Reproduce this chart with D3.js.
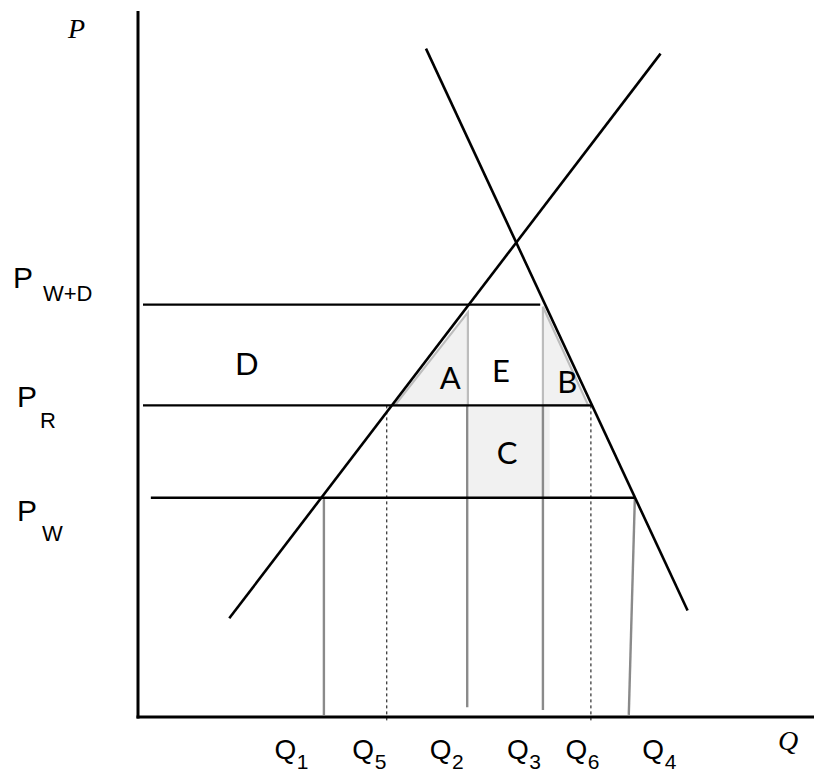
<!DOCTYPE html>
<html>
<head>
<meta charset="utf-8">
<script src="https://cdn.jsdelivr.net/npm/d3@7"></script>
<style>
html,body{margin:0;padding:0;background:#fff;}
svg{display:block;}
</style>
</head>
<body>
<svg id="chart" width="814" height="774"></svg>
<script>
// ---- data (schematic units: quantity 0-100, price 0-100) ----
const supplyLine = [{q:13.5, p:14.0}, {q:77.3, p:94.1}];
const demandLine = [{q:42.6, p:94.8}, {q:81.3, p:15.1}];

const priceNames  = ["W+D", "R", "W"];
const priceValues = [58.5, 44.2, 31.1];
const priceLineFrom = [0.74, 0.74, 1.9];
const priceLineTo   = [59.5, 67.2, 73.4];

const qNames  = ["1", "5", "2", "3", "6", "4"];
const qValues = [27.5, 36.8, 48.7, 59.9, 67.0, 73.2];
const qTopPrice = [31.1, 44.2, 44.2, 44.2, 44.2, 31.1];
const qBottomPrice = [0.28, -0.85, 1.4, 1.0, -0.85, 0.3];
const qDotted = [false, true, false, false, true, false];
const qBottomQ = [27.5, 36.8, 48.7, 59.9, 67.0, 72.6];
const qTopQ    = [27.5, 36.8, 48.7, 59.9, 67.0, 73.5];

const triA = [{q:38.0, p:44.2}, {q:48.8, p:57.4}, {q:48.8, p:44.2}];
const triB = [{q:59.9, p:58.2}, {q:59.9, p:44.2}, {q:66.6, p:44.2}];
const rectC = {q0:49.0, q1:60.9, p0:31.1, p1:44.2};

const regionNames = ["D", "A", "E", "B", "C"];
const regionQ = [16.1, 46.2, 53.7, 63.5, 54.6];
const regionP = [50.2, 48.2, 49.2, 47.7, 37.6];

// ---- layout ----
const svg = d3.select("#chart");
const x = d3.scaleLinear().domain([0, 100]).range([138, 814]);
const y = d3.scaleLinear().domain([0, 100]).range([717, 12]);
const line = d3.line().x(d => x(d.q)).y(d => y(d.p));

// shaded regions
svg.append("rect")
  .attr("x", x(rectC.q0)).attr("y", y(rectC.p1))
  .attr("width", x(rectC.q1) - x(rectC.q0))
  .attr("height", y(rectC.p0) - y(rectC.p1))
  .attr("fill", "#f1f1f1");
[triA, triB].forEach(t => {
  svg.append("path").attr("d", line(t) + "Z")
    .attr("fill", "#f1f1f1").attr("stroke", "#bdbdbd").attr("stroke-width", 2.2)
    .attr("stroke-linejoin", "miter");
});

// vertical quantity lines
qValues.forEach((q, i) => {
  svg.append("line")
    .attr("x1", x(qTopQ[i])).attr("x2", x(qBottomQ[i]))
    .attr("y1", y(qTopPrice[i])).attr("y2", y(qBottomPrice[i]))
    .attr("stroke", qDotted[i] ? "#000" : "#8a8a8a")
    .attr("stroke-width", qDotted[i] ? 1 : 2.4)
    .attr("stroke-dasharray", qDotted[i] ? "3,3" : null);
});

// horizontal price lines
priceValues.forEach((p, i) => {
  svg.append("line")
    .attr("x1", x(priceLineFrom[i])).attr("x2", x(priceLineTo[i]))
    .attr("y1", y(p)).attr("y2", y(p))
    .attr("stroke", "#000").attr("stroke-width", 2.4);
});

// supply & demand
[supplyLine, demandLine].forEach(l => {
  svg.append("path").attr("d", line(l))
    .attr("fill", "none").attr("stroke", "#000").attr("stroke-width", 2.6);
});

// axes
svg.append("line").attr("x1", x(0)).attr("x2", x(0)).attr("y1", 11).attr("y2", y(0) + 1.5)
  .attr("stroke", "#000").attr("stroke-width", 3);
svg.append("line").attr("x1", x(0) - 1.5).attr("x2", x(100)).attr("y1", y(0)).attr("y2", y(0))
  .attr("stroke", "#000").attr("stroke-width", 3);

// axis titles
svg.append("text").attr("x", 68).attr("y", 38)
  .attr("font-family", "'Liberation Serif', 'Times New Roman', serif")
  .attr("font-style", "italic").attr("font-size", 28).text("P");
svg.append("text").attr("x", 778).attr("y", 750)
  .attr("font-family", "'Liberation Serif', 'Times New Roman', serif")
  .attr("font-style", "italic").attr("font-size", 28).text("Q");

// price labels
const priceLabelPos = [
  {px:13, pdy:-17, sx:43, sdy:-4},
  {px:17, pdy:2,  sx:40, sdy:23},
  {px:17, pdy:23, sx:42, sdy:43}
];
const sans = "'Liberation Sans', Arial, sans-serif";
priceNames.forEach((n, i) => {
  const L = priceLabelPos[i];
  svg.append("text").attr("x", L.px).attr("y", y(priceValues[i]) + L.pdy)
    .attr("font-family", sans).attr("font-size", 30).text("P");
  svg.append("text").attr("x", L.sx).attr("y", y(priceValues[i]) + L.sdy)
    .attr("font-family", sans).attr("font-size", 22).text(n);
});

// quantity labels (letter + subscript in one text element)
const qLabelDx = [-49.5, -34.5, -37.5, -36, -25.5, 9.5];
qNames.forEach((n, i) => {
  const lx = x(qValues[i]) + qLabelDx[i];
  const t = svg.append("text").attr("x", lx).attr("y", 759)
    .attr("font-family", sans).attr("font-size", 28);
  t.append("tspan").text("Q");
  t.append("tspan").attr("dx", 0.6).attr("dy", 10).attr("font-size", 21).text(n);
});

// region labels
regionNames.forEach((n, i) => {
  svg.append("text").attr("x", x(regionQ[i])).attr("y", y(regionP[i]))
    .attr("text-anchor", "middle").attr("dominant-baseline", "central")
    .attr("font-family", "Lato, 'Open Sans', sans-serif").attr("font-size", 31)
    .text(n);
});
</script>
</body>
</html>
